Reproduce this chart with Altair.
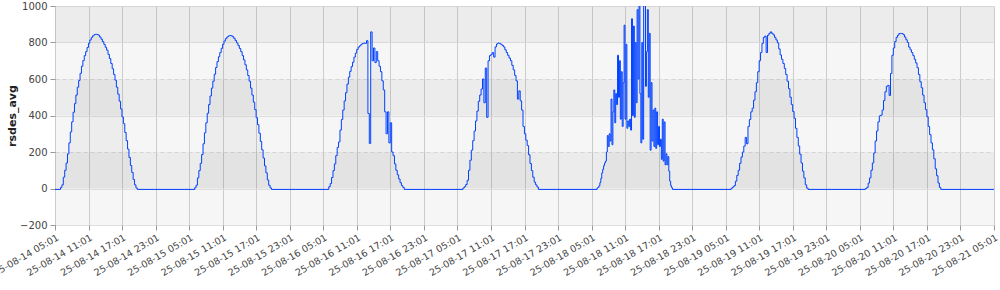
import altair as alt
import pandas as pd

# ---------------- data ----------------
DAY_DATES = ["2025-08-14", "2025-08-15", "2025-08-16", "2025-08-17",
             "2025-08-18", "2025-08-19", "2025-08-20"]
DAY_STEPS_MIN = [15, 15, 15, 15, 10, 15, 15]   # sampling step of each day's list
FIRST_SAMPLE = "06:00"      # first daytime sample of each day
NIGHT = -5                  # night-time value
SERIES_START = "2025-08-14T05:01:00Z"
SERIES_END = "2025-08-21T05:01:00Z"

day_14 = [5, 20, 62, 100, 140, 190, 250, 310, 365, 418, 465, 512, 555, 592, 631, 670,
          701, 728, 750, 773, 796, 814, 828, 837, 843, 845, 844, 840, 830, 818, 805, 790,
          774, 758, 735, 712, 685, 656, 625, 594, 555, 517, 478, 436, 392, 355, 307, 262,
          216, 170, 126, 88, 49, 20, 3, -5]
day_15 = [4, 18, 58, 98, 138, 186, 245, 305, 360, 412, 460, 507, 550, 588, 626, 663,
          695, 722, 745, 768, 790, 808, 821, 830, 836, 838, 837, 832, 823, 811, 798, 783,
          767, 750, 728, 705, 678, 650, 619, 588, 550, 512, 473, 432, 388, 350, 303, 258,
          212, 167, 124, 86, 47, 18, 3, -5]
day_16 = [10, 27, 60, 98, 135, 180, 225, 255, 320, 378, 430, 480, 525, 572, 610, 642,
          668, 692, 720, 742, 762, 775, 782, 790, 795, 797, 795, 810, 411, 247, 858, 700,
          770, 690, 750, 700, 670, 640, 590, 540, 420, 300, 420, 250, 360, 200, 180, 135,
          100, 75, 52, 32, 16, 6, -5]
day_17 = [3, 10, 22, 45, 100, 155, 210, 262, 315, 370, 424, 478, 512, 545, 600, 470,
          660, 390, 700, 728, 735, 745, 720, 776, 792, 797, 795, 790, 784, 776, 760, 745,
          730, 715, 700, 675, 650, 620, 590, 490, 535, 480, 430, 340, 300, 265, 235, 185,
          137, 98, 62, 35, 20, 8, -5]
day_18 = [3, 6, 15, 32, 55, 85, 105, 125, 140, 150, 200, 290, 230, 300, 260, 490,
          240, 420, 540, 360, 520, 460, 730, 500, 700, 380, 640, 340, 580, 895, 380, 790,
          330, 370, 340, 380, 320, 930, 400, 890, 390, 800, 470, 980, 600, 1010, 520, 250,
          800, 270, 1010, 1010, 560, 750, 980, 500, 850, 210, 580, 260, 430, 230, 440, 220,
          420, 240, 340, 230, 270, 160, 380, 150, 365, 130, 190, 130, 175, 95, 40, 15,
          4, -5]
day_19 = [2, 8, 16, 40, 72, 100, 138, 172, 200, 232, 280, 245, 340, 378, 420, 440,
          484, 530, 580, 640, 700, 745, 795, 828, 835, 745, 840, 850, 858, 850, 842, 828,
          814, 798, 765, 732, 708, 685, 658, 625, 588, 547, 500, 460, 422, 385, 330, 280,
          233, 188, 140, 95, 58, 20, 2, -5]
day_20 = [0, 6, 30, 58, 100, 140, 195, 260, 315, 365, 398, 402, 430, 482, 530, 560,
          565, 510, 630, 730, 770, 805, 828, 840, 849, 850, 849, 843, 830, 815, 800, 775,
          760, 745, 728, 708, 688, 662, 625, 585, 552, 512, 470, 432, 393, 340, 295, 250,
          212, 163, 108, 70, 30, 6, -5]
DAYS = [day_14, day_15, day_16, day_17, day_18, day_19, day_20]

Y_TICKS = [-200, 0, 200, 400, 600, 800, 1000]
BAND_LO = [800, 400, 0]
BAND_HI = [1000, 600, 200]

# ---------------- build table ----------------
rows = [{"t": SERIES_START, "v": NIGHT}]
for date, step, vals in zip(DAY_DATES, DAY_STEPS_MIN, DAYS):
    t0 = pd.Timestamp(f"{date}T{FIRST_SAMPLE}:00")
    for i, v in enumerate(vals):
        t = t0 + pd.Timedelta(minutes=step * i)
        rows.append({"t": t.strftime("%Y-%m-%dT%H:%M:%SZ"), "v": v})
rows.append({"t": SERIES_END, "v": NIGHT})
df = pd.DataFrame(rows)
bands = pd.DataFrame({"lo": BAND_LO, "hi": BAND_HI})


def dt(ts):
    return alt.DateTime(year=ts.year, month=ts.month, date=ts.day,
                        hours=ts.hour, minutes=ts.minute, utc=True)


start = pd.Timestamp("2025-08-14 05:01")
end = pd.Timestamp("2025-08-21 05:01")
tick_vals = [dt(ts) for ts in pd.date_range(start, end, freq="6h")]

W, H = 939, 219
FONT = "DejaVu Sans"

x_axis = alt.Axis(values=tick_vals,
                  labelExpr="utcFormat(datum.value, '%y-%m-%d %H:%M')",
                  labelAngle=-30, labelAlign="right", labelBaseline="top",
                  labelFontSize=9.5, labelColor="#444", labelPadding=2,
                  labelOverlap=False, labelBound=False, labelFlush=False,
                  grid=True, gridColor="#cccccc", gridWidth=1,
                  tickColor="#999999", tickSize=5, domain=False, title=None)
x_enc = alt.X("t:T", axis=x_axis,
              scale=alt.Scale(type="utc", domain=[dt(start), dt(end)]))

y_axis = alt.Axis(values=Y_TICKS, format="d", title="rsdes_avg", titleFont=FONT,
                  titleFontSize=11, titleFontWeight="bold", titleColor="#222",
                  titlePadding=2, labelFontSize=10, labelColor="#444", labelPadding=3,
                  grid=True, gridColor="#dedede", gridWidth=1,
                  gridDash={"condition": {"test": "datum.value === 600 || datum.value === 200",
                                          "value": [4, 3]}, "value": []},
                  tickColor="#999999", tickSize=5, domain=False)
y_scale = alt.Scale(domain=[-200, 1000], nice=False, zero=False)

band_layer = alt.Chart(bands).mark_rect(color="black", opacity=0.04).encode(
    x=alt.value(0), x2=alt.value(W),
    y=alt.Y("lo:Q", scale=y_scale, axis=y_axis), y2="hi:Q")

area_layer = alt.Chart(df).mark_area(color="black", opacity=0.035,
                                     interpolate="step-after", clip=True).encode(
    x=x_enc, y=alt.Y("v:Q", scale=y_scale, axis=y_axis))

line_layer = alt.Chart(df).mark_line(color="#0040ff", strokeWidth=1,
                                     interpolate="step-after", clip=True).encode(
    x=x_enc, y=alt.Y("v:Q", scale=y_scale, axis=y_axis))

chart = alt.layer(band_layer, area_layer, line_layer).properties(
    width=W, height=H,
    autosize=alt.AutoSizeParams(type="none"),
    padding={"left": 55, "top": 6, "right": 6, "bottom": 65},
).configure(font=FONT).configure_view(fill="#f6f6f6", stroke=None)

chart.save("out.html", embed_options={"renderer": "svg", "actions": False})
